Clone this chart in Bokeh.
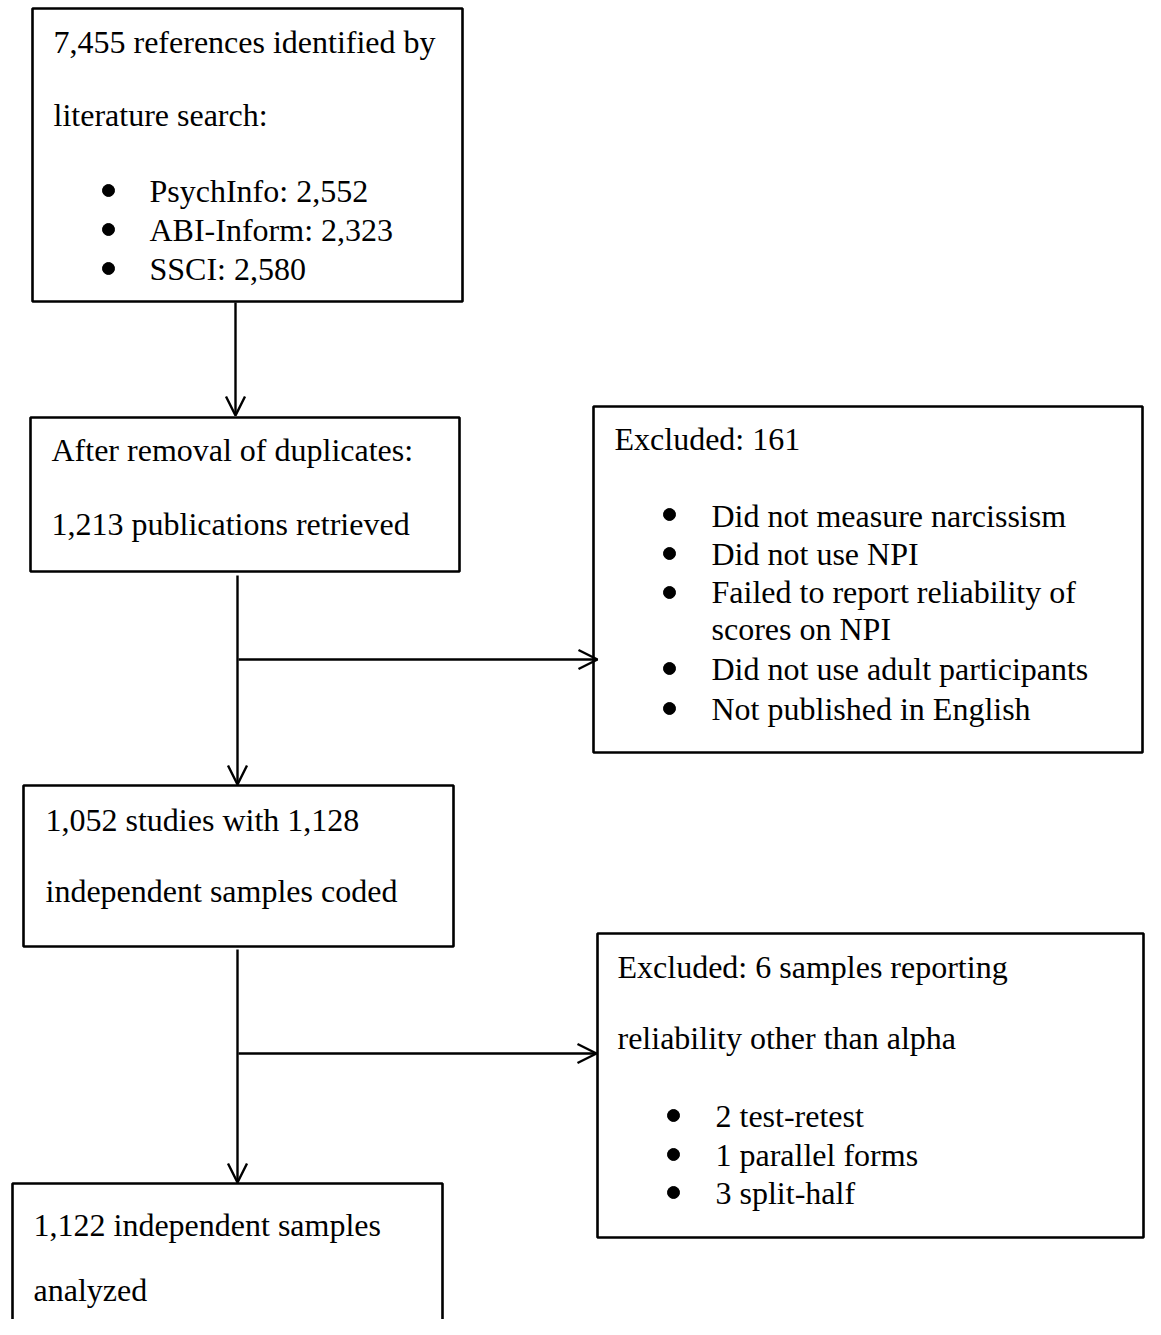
from bokeh.plotting import figure
from bokeh.models import Range1d, Arrow, OpenHead
from bokeh.core.properties import value
from bokeh.embed import file_html
from bokeh.resources import INLINE

# ---- text content (data) ----
box1_lines = ["7,455 references identified by", "literature search:"]
box1_bullets = ["PsychInfo: 2,552", "ABI-Inform: 2,323", "SSCI: 2,580"]
box2_lines = ["After removal of duplicates:", "1,213 publications retrieved"]
box3_lines = ["Excluded: 161"]
box3_bullets = ["Did not measure narcissism", "Did not use NPI",
                "Failed to report reliability of", "Did not use adult participants",
                "Not published in English"]
box3_continuation = ["scores on NPI"]
box4_lines = ["1,052 studies with 1,128", "independent samples coded"]
box5_lines = ["Excluded:  6 samples reporting", "reliability other than alpha"]
box5_bullets = ["2 test-retest", "1 parallel forms", "3 split-half"]
box6_lines = ["1,122 independent samples", "analyzed"]

W, H = 1145, 1319

# ---- layout (reference pixel coordinates) ----
boxes = dict(left=[32, 30, 593, 23, 597, 12],
             right=[462, 459, 1142, 453, 1143, 442],
             top=[8, 417, 406, 785, 933, 1183],
             bottom=[301, 571, 752, 946, 1237, 1345])

FONT = value("Liberation Serif")
FS = "32px"
DY = -9  # baseline correction

p = figure(width=W, height=H, x_range=Range1d(0, W), y_range=Range1d(H, 0),
           output_backend="svg", toolbar_location=None, min_border=0,
           x_axis_type=None, y_axis_type=None)
p.outline_line_color = None
p.background_fill_color = "white"
p.border_fill_color = "white"

p.quad(left=boxes["left"], right=boxes["right"], top=boxes["top"], bottom=boxes["bottom"],
       fill_color="white", line_color="black", line_width=2.6)


def add_text(xs, ys, texts):
    p.text(x=xs, y=[y + DY for y in ys], text=texts, text_font=FONT, text_font_size=FS,
           text_color="black", text_baseline="alphabetic", text_align="left")


def add_bullets(xs, ys):
    p.scatter(x=xs, y=ys, size=12, marker="circle", fill_color="black", line_color="black")


# box 1
add_text([53] * 2, [50, 123], box1_lines)
add_text([149] * 3, [199, 238, 277], box1_bullets)
add_bullets([108] * 3, [190, 229, 268])
# box 2
add_text([51] * 2, [458, 532], box2_lines)
# box 3
add_text([614], [447], box3_lines)
add_text([711] * 5, [524, 562, 600, 677, 717], box3_bullets)
add_text([711], [637], box3_continuation)
add_bullets([669] * 5, [514, 553, 592, 668, 708])
# box 4
add_text([45] * 2, [828, 899], box4_lines)
# box 5
add_text([617] * 2, [975, 1046], box5_lines)
add_text([715] * 3, [1124, 1163, 1201], box5_bullets)
add_bullets([673] * 3, [1115, 1154, 1192])
# box 6
add_text([33] * 2, [1233, 1298], box6_lines)

# connectors
def arrow(x0, y0, x1, y1):
    p.add_layout(Arrow(end=OpenHead(size=19, line_width=2.4, line_color="black"),
                       x_start=x0, y_start=y0, x_end=x1, y_end=y1,
                       line_width=2.4, line_color="black"))

arrow(235, 302, 235, 415)
arrow(237, 575, 237, 784)
arrow(238, 659, 597, 659)
arrow(237, 949, 237, 1182)
arrow(238, 1053, 596, 1053)

open("out.html", "w").write(file_html(p, INLINE))
